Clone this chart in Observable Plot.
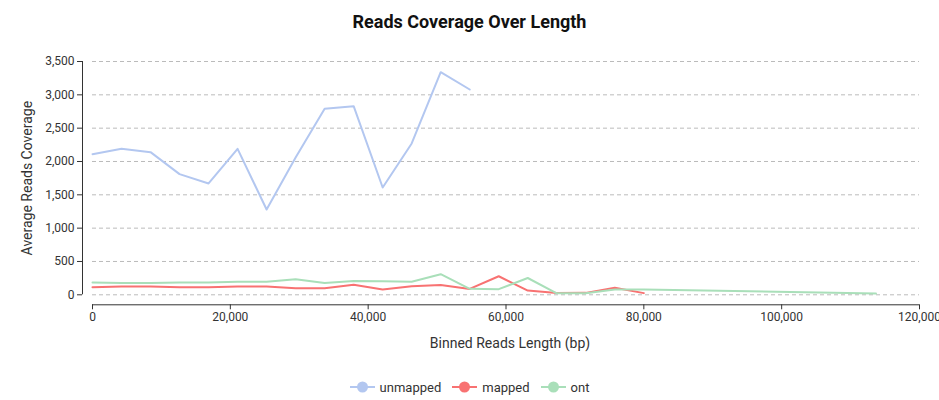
<!DOCTYPE html>
<html>
<head>
<meta charset="utf-8">
<script src="https://cdn.jsdelivr.net/npm/d3@7"></script>
<script src="https://cdn.jsdelivr.net/npm/@observablehq/plot@0.6"></script>
<style>
  html, body { margin: 0; padding: 0; background: #fff; }
  body { width: 939px; height: 400px; overflow: hidden; font-family: Roboto, sans-serif; }
  #title { height: 45px; box-sizing: border-box; padding-top: 10px; line-height: 24px; text-align: center; font-weight: 700; font-size: 18px; color: #111; }
  #chart svg { display: block; }
  #legend { height: 35px; box-sizing: border-box; padding-top: 15px; display: flex; justify-content: center; align-items: flex-start; }
  .item { display: flex; align-items: center; height: 14px; margin: 0 5.5px; font-size: 13px; color: #333; }
  .item svg { display: block; margin-right: 5px; }
</style>
</head>
<body>
<div id="title">Reads Coverage Over Length</div>
<div id="chart"></div>
<div id="legend"></div>
<script>
// Bin start positions (bp)
const binStarts = [0, 4210, 8421, 12631, 16842, 21052, 25263, 29473, 33684, 37894,
  42105, 46315, 50526, 54736, 58947, 63157, 67368, 71578, 75789, 80000,
  84210, 88421, 92631, 96842, 101052, 105263, 109473, 113684];

const seriesNames = ["unmapped", "mapped", "ont"];
const seriesColors = ["#b3c7f0", "#f87272", "#a9dfb9"];

const unmapped = [2110, 2190, 2140, 1810, 1670, 2190, 1280, 2060, 2790, 2830, 1610, 2270, 3340, 3080];
const mapped = [115, 125, 125, 115, 112, 125, 123, 100, 98, 150, 78, 127, 147, 88, 278, 64, 27, 29, 105, 25];
const ont = [185, 176, 176, 186, 186, 196, 196, 235, 176, 206, 203, 196, 309, 90, 85, 252, 22, 22, 78, 78,
  null, null, null, null, null, null, null, 20];

const xTicks = [0, 20000, 40000, 60000, 80000, 100000, 120000];
const yTicks = [0, 500, 1000, 1500, 2000, 2500, 3000, 3500];

const xLabel = "Binned Reads Length (bp)";
const yLabel = "Average Reads Coverage";

const rows = [];
[unmapped, mapped, ont].forEach((vals, s) => {
  vals.forEach((v, i) => {
    if (v != null) rows.push({series: seriesNames[s], length: binStarts[i], coverage: v});
  });
});

const fmt = d3.format(",");

const chart = Plot.plot({
  width: 939,
  height: 320,
  marginLeft: 92,
  marginRight: 20,
  marginTop: 16,
  marginBottom: 70.7,
  style: {fontFamily: "Roboto, sans-serif", fontSize: "12px", color: "#333", background: "#fff"},
  x: {domain: [0, 120000]},
  y: {domain: [0, 3500]},
  color: {domain: seriesNames, range: seriesColors},
  marks: [
    Plot.gridY(yTicks, {stroke: "#bbb", strokeOpacity: 1, strokeDasharray: "4,3"}),
    Plot.ruleX([0], {dx: -10, stroke: "#333"}),
    Plot.ruleY([0], {dy: 10, stroke: "#333"}),
    Plot.axisY(yTicks, {dx: -10, tickSize: 5, tickPadding: 3, tickFormat: fmt, label: null, stroke: "#333", fill: "#333"}),
    Plot.axisX(xTicks, {dy: 10, tickSize: 5, tickPadding: 3, tickFormat: fmt, label: null, stroke: "#333", fill: "#333"}),
    Plot.line(rows, {x: "length", y: "coverage", stroke: "series", strokeWidth: 2}),
    Plot.text([xLabel], {text: d => d, frameAnchor: "bottom", textAnchor: "middle", dx: 4, dy: 53, fontSize: 14, fill: "#333"}),
    Plot.text([yLabel], {text: d => d, frameAnchor: "left", textAnchor: "middle", rotate: -90, dx: -65, fontSize: 14, fill: "#333"})
  ]
});
document.getElementById("chart").appendChild(chart);

const legend = document.getElementById("legend");
seriesNames.forEach((name, i) => {
  const item = document.createElement("div");
  item.className = "item";
  item.innerHTML = `<svg width="25" height="12"><line x1="0" x2="25" y1="6" y2="6" stroke="${seriesColors[i]}" stroke-width="2"></line><circle cx="12.5" cy="6" r="5.5" fill="${seriesColors[i]}"></circle></svg><span>${name}</span>`;
  legend.appendChild(item);
});
</script>
</body>
</html>
